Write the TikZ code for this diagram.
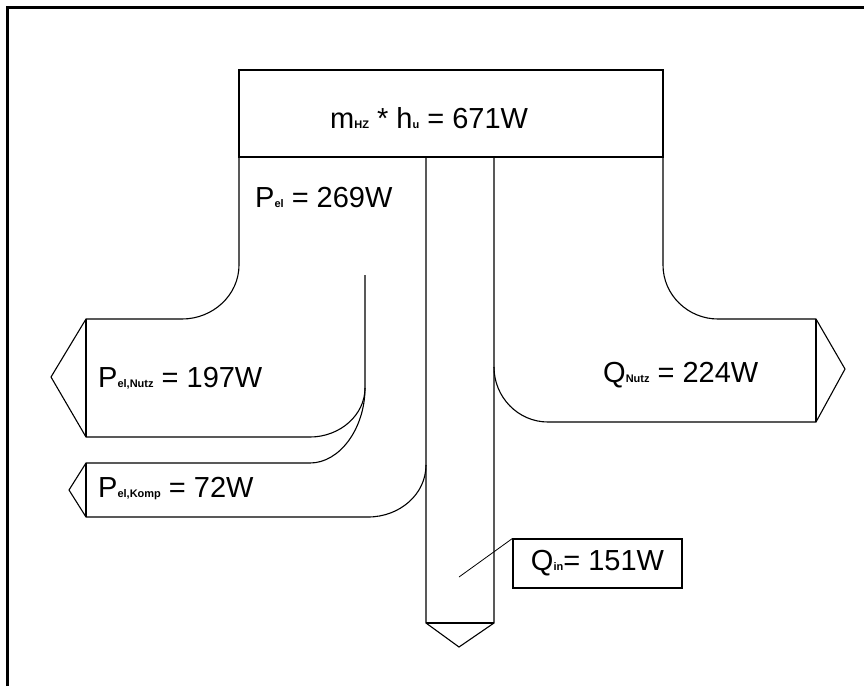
\documentclass[tikz,border=0pt]{standalone}
\usepackage{fontspec}
\setmainfont{Liberation Sans}
\usepackage{tikz}
\usetikzlibrary{positioning}
\newcommand{\lowsub}[1]{{\fontsize{11}{11}\selectfont\bfseries #1}}

\begin{document}
\begin{tikzpicture}[x=1pt,y=-1pt,
  flow/.style={draw,line width=1.1pt,line join=miter},
  lbl/.style={anchor=base west,inner sep=0pt,font=\fontsize{29}{32}\selectfont}]
  \useasboundingbox (0,0) rectangle (864,686);
  % frame
  \draw[line width=3pt] (7.5,686) -- (7.5,7.5) -- (864,7.5);
  % source box
  \draw[flow] (239,70) rectangle (663,157);
  % electric power, split in use and compressor
  \draw[flow] (239,157) -- (239,265) .. controls (239,295) and (213,319) .. (182,319)
    -- (86,319) -- (51,377) -- (86,437) -- (310,437)
    .. controls (340,437) and (365,415) .. (365,388) -- (365,275);
  \draw[flow] (86,319) -- (86,437);
  \draw[flow] (365,388) .. controls (365,428) and (340,463) .. (310,463)
    -- (86,463) -- (69,490) -- (86,517) -- (368,517)
    .. controls (400,517) and (426,494) .. (426,465);
  \draw[flow] (86,463) -- (86,517);
  % heat input column
  \draw[flow] (426,157) -- (426,623) -- (459,647) -- (494,623) -- (494,157);
  \draw[flow] (426,623) -- (494,623);
  % useful heat
  \draw[flow] (663,157) -- (663,265) .. controls (663,295) and (688,319) .. (718,319)
    -- (816,319) -- (845,369) -- (816,422) -- (548,422)
    .. controls (518,422) and (494,397) .. (494,367);
  \draw[flow] (816,319) -- (816,422);
  % labels
  \node[lbl] (src) at (330,128) {m\lowsub{HZ} * h\lowsub{u} = 671W};
  \node[lbl] (pel) at (255,207) {P\lowsub{el} = 269W};
  \node[lbl] (pnutz) at (98,387) {P\lowsub{el,Nutz} = 197W};
  \node[lbl] (pkomp) at (98,497) {P\lowsub{el,Komp} = 72W};
  \node[lbl] (qnutz) at (603,382) {Q\lowsub{Nutz} = 224W};
  \node[draw,line width=1.1pt,minimum width=169pt,minimum height=49pt,inner sep=0pt,
    font=\fontsize{29}{32}\selectfont] (qin) at (597.5,563.5) {Q\lowsub{in}= 151W};
  \coordinate (qinflow) at (459,577);
  \draw[line width=0.8pt] (qinflow) -- (qin.north west);
\end{tikzpicture}
\end{document}
